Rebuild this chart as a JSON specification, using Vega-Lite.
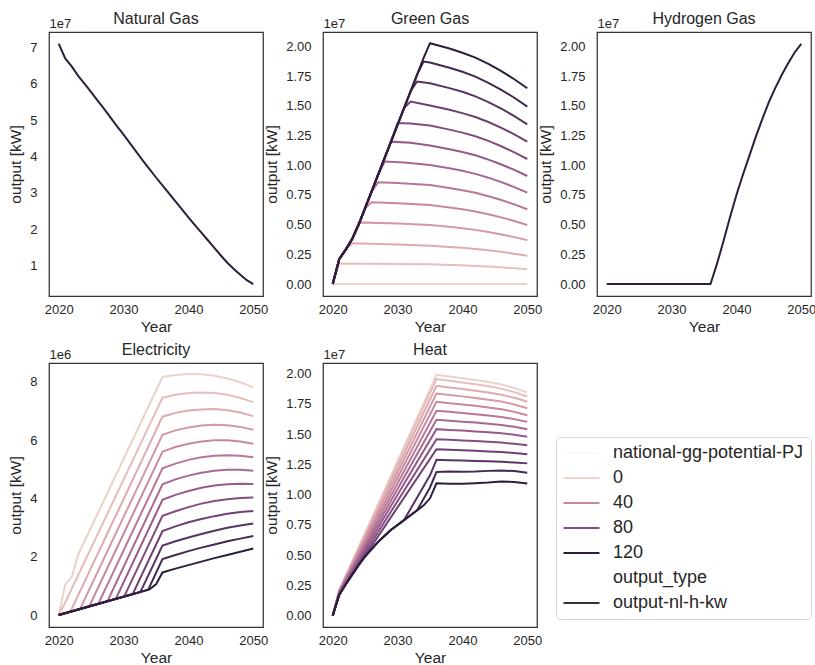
{
"$schema": "https://vega.github.io/schema/vega-lite/v6.json",
"background": "white",
"padding": {"left": 8, "top": 10, "right": 5, "bottom": 5},
"columns": 3,
"bounds": "flush",
"spacing": {"row": 67, "column": 60},
"datasets": {
"ng": [
{"p":120,"x":2020,"v":71100000},{"p":120,"x":2021,"v":67000000},{"p":120,"x":2022,"v":64800000},{"p":120,"x":2023,"v":62200000},{"p":120,"x":2024,"v":60000000},{"p":120,"x":2025,"v":57700000},{"p":120,"x":2026,"v":55400000},{"p":120,"x":2027,"v":53100000},{"p":120,"x":2028,"v":50700000},{"p":120,"x":2029,"v":48300000},{"p":120,"x":2030,"v":46000000},{"p":120,"x":2031,"v":43600000},{"p":120,"x":2032,"v":41200000},{"p":120,"x":2033,"v":38800000},{"p":120,"x":2034,"v":36500000},{"p":120,"x":2035,"v":34200000},{"p":120,"x":2036,"v":32000000},{"p":120,"x":2037,"v":29800000},{"p":120,"x":2038,"v":27600000},{"p":120,"x":2039,"v":25400000},{"p":120,"x":2040,"v":23200000},{"p":120,"x":2041,"v":21100000},{"p":120,"x":2042,"v":19000000},{"p":120,"x":2043,"v":16900000},{"p":120,"x":2044,"v":14800000},{"p":120,"x":2045,"v":12700000},{"p":120,"x":2046,"v":10700000},{"p":120,"x":2047,"v":9000000},{"p":120,"x":2048,"v":7400000},{"p":120,"x":2049,"v":5900000},{"p":120,"x":2050,"v":4800000}
],
"h2": [
{"p":120,"x":2020,"v":0},{"p":120,"x":2036,"v":0},{"p":120,"x":2037,"v":1700000},{"p":120,"x":2038,"v":3600000},{"p":120,"x":2039,"v":5600000},{"p":120,"x":2040,"v":7500000},{"p":120,"x":2041,"v":9200000},{"p":120,"x":2042,"v":10800000},{"p":120,"x":2043,"v":12400000},{"p":120,"x":2044,"v":13900000},{"p":120,"x":2045,"v":15300000},{"p":120,"x":2046,"v":16500000},{"p":120,"x":2047,"v":17600000},{"p":120,"x":2048,"v":18600000},{"p":120,"x":2049,"v":19500000},{"p":120,"x":2050,"v":20200000}
],
"gg": [
{"p":0,"x":2020,"v":0},{"p":0,"x":2035,"v":0},{"p":0,"x":2050,"v":0},
{"p":10,"x":2020,"v":0},{"p":10,"x":2021,"v":1740000},{"p":10,"x":2025,"v":1720000},{"p":10,"x":2030,"v":1700000},{"p":10,"x":2035,"v":1660000},{"p":10,"x":2038,"v":1610000},{"p":10,"x":2040,"v":1580000},{"p":10,"x":2042,"v":1530000},{"p":10,"x":2044,"v":1480000},{"p":10,"x":2046,"v":1410000},{"p":10,"x":2048,"v":1340000},{"p":10,"x":2050,"v":1260000},
{"p":20,"x":2020,"v":0},{"p":20,"x":2021,"v":2100000},{"p":20,"x":2022,"v":2900000},{"p":20,"x":2023,"v":3430000},{"p":20,"x":2030,"v":3340000},{"p":20,"x":2035,"v":3230000},{"p":20,"x":2038,"v":3130000},{"p":20,"x":2040,"v":3050000},{"p":20,"x":2042,"v":2960000},{"p":20,"x":2044,"v":2840000},{"p":20,"x":2046,"v":2710000},{"p":20,"x":2048,"v":2560000},{"p":20,"x":2050,"v":2390000},
{"p":30,"x":2020,"v":0},{"p":30,"x":2021,"v":2100000},{"p":30,"x":2022,"v":2900000},{"p":30,"x":2023,"v":3800000},{"p":30,"x":2024,"v":5190000},{"p":30,"x":2030,"v":5100000},{"p":30,"x":2035,"v":4970000},{"p":30,"x":2038,"v":4820000},{"p":30,"x":2040,"v":4700000},{"p":30,"x":2042,"v":4560000},{"p":30,"x":2044,"v":4390000},{"p":30,"x":2046,"v":4180000},{"p":30,"x":2048,"v":3950000},{"p":30,"x":2050,"v":3700000},
{"p":40,"x":2020,"v":0},{"p":40,"x":2021,"v":2100000},{"p":40,"x":2022,"v":2900000},{"p":40,"x":2023,"v":3800000},{"p":40,"x":2024,"v":5000000},{"p":40,"x":2025,"v":6370000},{"p":40,"x":2026,"v":6880000},{"p":40,"x":2030,"v":6800000},{"p":40,"x":2035,"v":6650000},{"p":40,"x":2038,"v":6450000},{"p":40,"x":2040,"v":6300000},{"p":40,"x":2042,"v":6110000},{"p":40,"x":2044,"v":5880000},{"p":40,"x":2046,"v":5610000},{"p":40,"x":2048,"v":5310000},{"p":40,"x":2050,"v":4970000},
{"p":50,"x":2020,"v":0},{"p":50,"x":2021,"v":2100000},{"p":50,"x":2022,"v":2900000},{"p":50,"x":2023,"v":3800000},{"p":50,"x":2024,"v":5000000},{"p":50,"x":2026,"v":7770000},{"p":50,"x":2027,"v":8560000},{"p":50,"x":2030,"v":8500000},{"p":50,"x":2035,"v":8330000},{"p":50,"x":2038,"v":8090000},{"p":50,"x":2040,"v":7900000},{"p":50,"x":2042,"v":7680000},{"p":50,"x":2044,"v":7390000},{"p":50,"x":2046,"v":7070000},{"p":50,"x":2048,"v":6700000},{"p":50,"x":2050,"v":6290000},
{"p":60,"x":2020,"v":0},{"p":60,"x":2021,"v":2100000},{"p":60,"x":2022,"v":2900000},{"p":60,"x":2023,"v":3800000},{"p":60,"x":2024,"v":5000000},{"p":60,"x":2027,"v":9170000},{"p":60,"x":2028,"v":10300000},{"p":60,"x":2031,"v":10220000},{"p":60,"x":2035,"v":10020000},{"p":60,"x":2038,"v":9740000},{"p":60,"x":2040,"v":9530000},{"p":60,"x":2042,"v":9270000},{"p":60,"x":2044,"v":8950000},{"p":60,"x":2046,"v":8580000},{"p":60,"x":2048,"v":8160000},{"p":60,"x":2050,"v":7690000},
{"p":70,"x":2020,"v":0},{"p":70,"x":2021,"v":2100000},{"p":70,"x":2022,"v":2900000},{"p":70,"x":2023,"v":3800000},{"p":70,"x":2024,"v":5000000},{"p":70,"x":2028,"v":10570000},{"p":70,"x":2029,"v":11980000},{"p":70,"x":2032,"v":11880000},{"p":70,"x":2035,"v":11650000},{"p":70,"x":2038,"v":11340000},{"p":70,"x":2040,"v":11110000},{"p":70,"x":2042,"v":10830000},{"p":70,"x":2044,"v":10470000},{"p":70,"x":2046,"v":10060000},{"p":70,"x":2048,"v":9600000},{"p":70,"x":2050,"v":9090000},
{"p":80,"x":2020,"v":0},{"p":80,"x":2021,"v":2100000},{"p":80,"x":2022,"v":2900000},{"p":80,"x":2023,"v":3800000},{"p":80,"x":2024,"v":5000000},{"p":80,"x":2029,"v":12000000},{"p":80,"x":2030,"v":13550000},{"p":80,"x":2032,"v":13500000},{"p":80,"x":2035,"v":13330000},{"p":80,"x":2038,"v":12990000},{"p":80,"x":2040,"v":12740000},{"p":80,"x":2042,"v":12430000},{"p":80,"x":2044,"v":12040000},{"p":80,"x":2046,"v":11590000},{"p":80,"x":2048,"v":11080000},{"p":80,"x":2050,"v":10520000},
{"p":90,"x":2020,"v":0},{"p":90,"x":2021,"v":2100000},{"p":90,"x":2022,"v":2900000},{"p":90,"x":2023,"v":3800000},{"p":90,"x":2024,"v":5000000},{"p":90,"x":2031,"v":14800000},{"p":90,"x":2032,"v":15350000},{"p":90,"x":2035,"v":15020000},{"p":90,"x":2038,"v":14660000},{"p":90,"x":2040,"v":14380000},{"p":90,"x":2042,"v":14050000},{"p":90,"x":2044,"v":13630000},{"p":90,"x":2046,"v":13140000},{"p":90,"x":2048,"v":12600000},{"p":90,"x":2050,"v":11990000},
{"p":100,"x":2020,"v":0},{"p":100,"x":2021,"v":2100000},{"p":100,"x":2022,"v":2900000},{"p":100,"x":2023,"v":3800000},{"p":100,"x":2024,"v":5000000},{"p":100,"x":2032,"v":16200000},{"p":100,"x":2033,"v":17040000},{"p":100,"x":2035,"v":16890000},{"p":100,"x":2038,"v":16480000},{"p":100,"x":2040,"v":16170000},{"p":100,"x":2042,"v":15790000},{"p":100,"x":2044,"v":15300000},{"p":100,"x":2046,"v":14750000},{"p":100,"x":2048,"v":14130000},{"p":100,"x":2050,"v":13440000},
{"p":110,"x":2020,"v":0},{"p":110,"x":2021,"v":2100000},{"p":110,"x":2022,"v":2900000},{"p":110,"x":2023,"v":3800000},{"p":110,"x":2024,"v":5000000},{"p":110,"x":2033,"v":17600000},{"p":110,"x":2034,"v":18720000},{"p":110,"x":2035,"v":18640000},{"p":110,"x":2038,"v":18190000},{"p":110,"x":2040,"v":17860000},{"p":110,"x":2042,"v":17450000},{"p":110,"x":2044,"v":16930000},{"p":110,"x":2046,"v":16340000},{"p":110,"x":2048,"v":15670000},{"p":110,"x":2050,"v":14930000},
{"p":120,"x":2020,"v":0},{"p":120,"x":2021,"v":2100000},{"p":120,"x":2022,"v":2900000},{"p":120,"x":2023,"v":3800000},{"p":120,"x":2024,"v":5000000},{"p":120,"x":2034,"v":19000000},{"p":120,"x":2035,"v":20260000},{"p":120,"x":2038,"v":19810000},{"p":120,"x":2040,"v":19460000},{"p":120,"x":2042,"v":19050000},{"p":120,"x":2044,"v":18520000},{"p":120,"x":2046,"v":17910000},{"p":120,"x":2048,"v":17230000},{"p":120,"x":2050,"v":16470000}
],
"el": [
{"p":0,"x":2020,"v":0},{"p":0,"x":2021,"v":1040000},{"p":0,"x":2022,"v":1300000},{"p":0,"x":2023,"v":2070000},{"p":0,"x":2036,"v":8160000},{"p":0,"x":2038,"v":8230000},{"p":0,"x":2040,"v":8260000},{"p":0,"x":2042,"v":8255000},{"p":0,"x":2044,"v":8205000},{"p":0,"x":2046,"v":8110000},{"p":0,"x":2048,"v":7980000},{"p":0,"x":2050,"v":7810000},
{"p":10,"x":2020,"v":0},{"p":10,"x":2021,"v":430000},{"p":10,"x":2036,"v":7450000},{"p":10,"x":2038,"v":7550000},{"p":10,"x":2040,"v":7610000},{"p":10,"x":2042,"v":7630000},{"p":10,"x":2044,"v":7610000},{"p":10,"x":2046,"v":7550000},{"p":10,"x":2048,"v":7440000},{"p":10,"x":2050,"v":7300000},
{"p":20,"x":2020,"v":0},{"p":20,"x":2021.8,"v":112000},{"p":20,"x":2036,"v":6800000},{"p":20,"x":2038,"v":6930000},{"p":20,"x":2040,"v":7010000},{"p":20,"x":2042,"v":7050000},{"p":20,"x":2044,"v":7060000},{"p":20,"x":2046,"v":7020000},{"p":20,"x":2048,"v":6940000},{"p":20,"x":2050,"v":6820000},
{"p":30,"x":2020,"v":0},{"p":30,"x":2023.3,"v":207000},{"p":30,"x":2036,"v":6180000},{"p":30,"x":2038,"v":6330000},{"p":30,"x":2040,"v":6430000},{"p":30,"x":2042,"v":6500000},{"p":30,"x":2044,"v":6520000},{"p":30,"x":2046,"v":6510000},{"p":30,"x":2048,"v":6450000},{"p":30,"x":2050,"v":6350000},
{"p":40,"x":2020,"v":0},{"p":40,"x":2024.7,"v":297000},{"p":40,"x":2036,"v":5600000},{"p":40,"x":2038,"v":5760000},{"p":40,"x":2040,"v":5870000},{"p":40,"x":2042,"v":5950000},{"p":40,"x":2044,"v":5990000},{"p":40,"x":2046,"v":5990000},{"p":40,"x":2048,"v":5950000},{"p":40,"x":2050,"v":5870000},
{"p":50,"x":2020,"v":0},{"p":50,"x":2026.1,"v":385000},{"p":50,"x":2036,"v":5030000},{"p":50,"x":2038,"v":5190000},{"p":50,"x":2040,"v":5320000},{"p":50,"x":2042,"v":5410000},{"p":50,"x":2044,"v":5460000},{"p":50,"x":2046,"v":5480000},{"p":50,"x":2048,"v":5460000},{"p":50,"x":2050,"v":5410000},
{"p":60,"x":2020,"v":0},{"p":60,"x":2027.5,"v":470000},{"p":60,"x":2036,"v":4480000},{"p":60,"x":2038,"v":4650000},{"p":60,"x":2040,"v":4780000},{"p":60,"x":2042,"v":4880000},{"p":60,"x":2044,"v":4950000},{"p":60,"x":2046,"v":4980000},{"p":60,"x":2048,"v":4980000},{"p":60,"x":2050,"v":4950000},
{"p":70,"x":2020,"v":0},{"p":70,"x":2028.8,"v":553000},{"p":70,"x":2036,"v":3950000},{"p":70,"x":2038,"v":4120000},{"p":70,"x":2040,"v":4250000},{"p":70,"x":2042,"v":4360000},{"p":70,"x":2044,"v":4440000},{"p":70,"x":2046,"v":4480000},{"p":70,"x":2048,"v":4500000},{"p":70,"x":2050,"v":4490000},
{"p":80,"x":2020,"v":0},{"p":80,"x":2030.1,"v":637000},{"p":80,"x":2036,"v":3400000},{"p":80,"x":2038,"v":3560000},{"p":80,"x":2040,"v":3700000},{"p":80,"x":2042,"v":3820000},{"p":80,"x":2044,"v":3910000},{"p":80,"x":2046,"v":3970000},{"p":80,"x":2048,"v":4010000},{"p":80,"x":2050,"v":4030000},
{"p":90,"x":2020,"v":0},{"p":90,"x":2031.4,"v":718000},{"p":90,"x":2036,"v":2880000},{"p":90,"x":2038,"v":3040000},{"p":90,"x":2040,"v":3180000},{"p":90,"x":2042,"v":3290000},{"p":90,"x":2044,"v":3390000},{"p":90,"x":2046,"v":3470000},{"p":90,"x":2048,"v":3530000},{"p":90,"x":2050,"v":3570000},
{"p":100,"x":2020,"v":0},{"p":100,"x":2032.6,"v":795000},{"p":100,"x":2036,"v":2380000},{"p":100,"x":2038,"v":2530000},{"p":100,"x":2040,"v":2660000},{"p":100,"x":2042,"v":2780000},{"p":100,"x":2044,"v":2890000},{"p":100,"x":2046,"v":2990000},{"p":100,"x":2048,"v":3070000},{"p":100,"x":2050,"v":3140000},
{"p":110,"x":2020,"v":0},{"p":110,"x":2033.8,"v":867000},{"p":110,"x":2036,"v":1920000},{"p":110,"x":2038,"v":2060000},{"p":110,"x":2040,"v":2190000},{"p":110,"x":2042,"v":2310000},{"p":110,"x":2044,"v":2420000},{"p":110,"x":2046,"v":2530000},{"p":110,"x":2048,"v":2620000},{"p":110,"x":2050,"v":2710000},
{"p":120,"x":2020,"v":0},{"p":120,"x":2034,"v":880000},{"p":120,"x":2035,"v":1050000},{"p":120,"x":2036,"v":1460000},{"p":120,"x":2038,"v":1590000},{"p":120,"x":2040,"v":1710000},{"p":120,"x":2042,"v":1830000},{"p":120,"x":2044,"v":1950000},{"p":120,"x":2046,"v":2060000},{"p":120,"x":2048,"v":2170000},{"p":120,"x":2050,"v":2280000}
],
"heat": [
{"p":0,"x":2020,"v":0},{"p":0,"x":2021,"v":2100000},{"p":0,"x":2036,"v":19920000},{"p":0,"x":2038,"v":19770000},{"p":0,"x":2040,"v":19630000},{"p":0,"x":2042,"v":19480000},{"p":0,"x":2044,"v":19310000},{"p":0,"x":2046,"v":19120000},{"p":0,"x":2048,"v":18820000},{"p":0,"x":2050,"v":18460000},
{"p":10,"x":2020,"v":0},{"p":10,"x":2021,"v":2100000},{"p":10,"x":2036,"v":19560000},{"p":10,"x":2038,"v":19420000},{"p":10,"x":2040,"v":19270000},{"p":10,"x":2042,"v":19130000},{"p":10,"x":2044,"v":18960000},{"p":10,"x":2046,"v":18770000},{"p":10,"x":2048,"v":18480000},{"p":10,"x":2050,"v":18120000},
{"p":20,"x":2020,"v":0},{"p":20,"x":2021,"v":2100000},{"p":20,"x":2036,"v":19000000},{"p":20,"x":2038,"v":18870000},{"p":20,"x":2040,"v":18740000},{"p":20,"x":2042,"v":18600000},{"p":20,"x":2044,"v":18450000},{"p":20,"x":2046,"v":18270000},{"p":20,"x":2048,"v":18010000},{"p":20,"x":2050,"v":17680000},
{"p":30,"x":2020,"v":0},{"p":30,"x":2021,"v":2050000},{"p":30,"x":2036,"v":18370000},{"p":30,"x":2038,"v":18250000},{"p":30,"x":2040,"v":18130000},{"p":30,"x":2042,"v":18000000},{"p":30,"x":2044,"v":17860000},{"p":30,"x":2046,"v":17700000},{"p":30,"x":2048,"v":17460000},{"p":30,"x":2050,"v":17150000},
{"p":40,"x":2020,"v":0},{"p":40,"x":2021,"v":2000000},{"p":40,"x":2036,"v":17680000},{"p":40,"x":2038,"v":17570000},{"p":40,"x":2040,"v":17460000},{"p":40,"x":2042,"v":17350000},{"p":40,"x":2044,"v":17210000},{"p":40,"x":2046,"v":17070000},{"p":40,"x":2048,"v":16850000},{"p":40,"x":2050,"v":16570000},
{"p":50,"x":2020,"v":0},{"p":50,"x":2021,"v":1950000},{"p":50,"x":2036,"v":16940000},{"p":50,"x":2038,"v":16850000},{"p":50,"x":2040,"v":16760000},{"p":50,"x":2042,"v":16660000},{"p":50,"x":2044,"v":16550000},{"p":50,"x":2046,"v":16430000},{"p":50,"x":2048,"v":16250000},{"p":50,"x":2050,"v":16020000},
{"p":60,"x":2020,"v":0},{"p":60,"x":2021,"v":1900000},{"p":60,"x":2036,"v":16190000},{"p":60,"x":2038,"v":16110000},{"p":60,"x":2040,"v":16030000},{"p":60,"x":2042,"v":15960000},{"p":60,"x":2044,"v":15860000},{"p":60,"x":2046,"v":15760000},{"p":60,"x":2048,"v":15610000},{"p":60,"x":2050,"v":15410000},
{"p":70,"x":2020,"v":0},{"p":70,"x":2021,"v":1850000},{"p":70,"x":2036,"v":15420000},{"p":70,"x":2038,"v":15360000},{"p":70,"x":2040,"v":15300000},{"p":70,"x":2042,"v":15230000},{"p":70,"x":2044,"v":15160000},{"p":70,"x":2046,"v":15080000},{"p":70,"x":2048,"v":14960000},{"p":70,"x":2050,"v":14800000},
{"p":80,"x":2020,"v":0},{"p":80,"x":2021,"v":1800000},{"p":80,"x":2036,"v":14590000},{"p":80,"x":2038,"v":14540000},{"p":80,"x":2040,"v":14490000},{"p":80,"x":2042,"v":14440000},{"p":80,"x":2044,"v":14380000},{"p":80,"x":2046,"v":14310000},{"p":80,"x":2048,"v":14210000},{"p":80,"x":2050,"v":14080000},
{"p":90,"x":2020,"v":0},{"p":90,"x":2021,"v":1750000},{"p":90,"x":2036,"v":13760000},{"p":90,"x":2038,"v":13720000},{"p":90,"x":2040,"v":13680000},{"p":90,"x":2042,"v":13630000},{"p":90,"x":2044,"v":13580000},{"p":90,"x":2046,"v":13530000},{"p":90,"x":2048,"v":13450000},{"p":90,"x":2050,"v":13340000},
{"p":100,"x":2020,"v":0},{"p":100,"x":2021,"v":1700000},{"p":100,"x":2022,"v":2600000},{"p":100,"x":2023,"v":3400000},{"p":100,"x":2024,"v":4200000},{"p":100,"x":2025,"v":4900000},{"p":100,"x":2026,"v":5500000},{"p":100,"x":2027,"v":6100000},{"p":100,"x":2028,"v":6600000},{"p":100,"x":2029,"v":7100000},{"p":100,"x":2030,"v":7500000},{"p":100,"x":2031,"v":7900000},{"p":100,"x":2035,"v":11600000},{"p":100,"x":2036,"v":12880000},{"p":100,"x":2038,"v":12850000},{"p":100,"x":2040,"v":12820000},{"p":100,"x":2042,"v":12790000},{"p":100,"x":2044,"v":12760000},{"p":100,"x":2046,"v":12720000},{"p":100,"x":2048,"v":12660000},{"p":100,"x":2050,"v":12590000},
{"p":110,"x":2020,"v":0},{"p":110,"x":2021,"v":1700000},{"p":110,"x":2022,"v":2600000},{"p":110,"x":2023,"v":3400000},{"p":110,"x":2024,"v":4200000},{"p":110,"x":2025,"v":4900000},{"p":110,"x":2026,"v":5500000},{"p":110,"x":2027,"v":6100000},{"p":110,"x":2028,"v":6600000},{"p":110,"x":2029,"v":7100000},{"p":110,"x":2030,"v":7500000},{"p":110,"x":2031,"v":7900000},{"p":110,"x":2032,"v":8300000},{"p":110,"x":2033,"v":8700000},{"p":110,"x":2035,"v":10600000},{"p":110,"x":2036,"v":11880000},{"p":110,"x":2038,"v":11920000},{"p":110,"x":2040,"v":11900000},{"p":110,"x":2042,"v":11920000},{"p":110,"x":2044,"v":11970000},{"p":110,"x":2046,"v":12000000},{"p":110,"x":2048,"v":11950000},{"p":110,"x":2050,"v":11820000},
{"p":120,"x":2020,"v":0},{"p":120,"x":2021,"v":1700000},{"p":120,"x":2022,"v":2600000},{"p":120,"x":2023,"v":3400000},{"p":120,"x":2024,"v":4200000},{"p":120,"x":2025,"v":4900000},{"p":120,"x":2026,"v":5500000},{"p":120,"x":2027,"v":6100000},{"p":120,"x":2028,"v":6600000},{"p":120,"x":2029,"v":7100000},{"p":120,"x":2030,"v":7500000},{"p":120,"x":2031,"v":7900000},{"p":120,"x":2032,"v":8300000},{"p":120,"x":2033,"v":8700000},{"p":120,"x":2034,"v":9100000},{"p":120,"x":2035,"v":9700000},{"p":120,"x":2036,"v":10940000},{"p":120,"x":2038,"v":10900000},{"p":120,"x":2040,"v":10900000},{"p":120,"x":2042,"v":10950000},{"p":120,"x":2044,"v":11000000},{"p":120,"x":2046,"v":11100000},{"p":120,"x":2048,"v":11050000},{"p":120,"x":2050,"v":10930000}
]
},
"concat": [
{"title": {"text": "Natural Gas", "offset": -10, "frame": "group"}, "data": {"name": "ng"}, "width": 214, "height": 264,
 "layer": [
  {"mark": {"type": "line", "strokeWidth": 2},
   "encoding": {
    "x": {"field": "x", "type": "quantitative", "scale": {"domain": [2018.5, 2051.5], "nice": false, "zero": false}, "axis": {"title": "Year", "values": [2020, 2030, 2040, 2050], "format": "d"}},
    "y": {"field": "v", "type": "quantitative", "scale": {"domain": [1540000, 74300000], "nice": false, "zero": false}, "axis": {"title": "output [kW]", "values": [10000000, 20000000, 30000000, 40000000, 50000000, 60000000, 70000000], "labelExpr": "format(datum.value/1e7, 'd')"}},
    "color": {"field": "p", "type": "quantitative", "scale": {"domain": [-50, 0, 24, 48, 72, 96, 120, 160, 200], "range": ["#ffffff", "#edd1cb", "#daa4ac", "#bc7a98", "#94578a", "#613969", "#2d1e3e", "#ffffff", "#333333"]},
     "legend": {"type": "symbol", "orient": "none", "legendX": 507, "legendY": 405, "title": null, "values": [-50, 0, 40, 80, 120, 160, 200],
      "labelExpr": "datum.value < 0 ? 'national-gg-potential-PJ' : datum.value == 160 ? 'output_type' : datum.value == 200 ? 'output-nl-h-kw' : datum.label",
      "symbolType": "M-3,0H3", "symbolSize": 144, "symbolStrokeWidth": 2, "symbolOffset": 9.5, "labelOffset": 22.5, "labelFontSize": 18, "labelColor": "#262626", "labelLimit": 400, "rowPadding": 7, "padding": 7, "strokeColor": "#d6d6d6", "fillColor": "white", "cornerRadius": 4}},
    "detail": {"field": "p", "type": "nominal"}
   }},
  {"mark": {"type": "line", "opacity": 0},
   "encoding": {
    "x": {"field": "x", "type": "quantitative", "scale": {"domain": [2018.5, 2051.5], "nice": false, "zero": false}, "axis": {"title": "Year", "values": [2020, 2030, 2040, 2050], "format": "d"}},
    "y": {"field": "v", "type": "quantitative", "scale": {"domain": [1540000, 74300000], "nice": false, "zero": false}, "axis": {"title": "1e7", "orient": "left", "labels": false, "titleAngle": 0, "titleX": 0, "titleY": -2, "titleAlign": "left", "titleBaseline": "bottom", "titleFontSize": 13}}
   }}
 ],
 "resolve": {"axis": {"y": "independent"}}
},
{"title": {"text": "Green Gas", "offset": -10, "frame": "group"}, "data": {"name": "gg"}, "width": 214, "height": 264,
 "layer": [
  {"mark": {"type": "line", "strokeWidth": 2},
   "encoding": {
    "x": {"field": "x", "type": "quantitative", "scale": {"domain": [2018.5, 2051.5], "nice": false, "zero": false}, "axis": {"title": "Year", "values": [2020, 2030, 2040, 2050], "format": "d"}},
    "y": {"field": "v", "type": "quantitative", "scale": {"domain": [-1000000, 21200000], "nice": false, "zero": false}, "axis": {"title": "output [kW]", "values": [0, 2500000, 5000000, 7500000, 10000000, 12500000, 15000000, 17500000, 20000000], "labelExpr": "format(datum.value/1e7, '.2f')"}},
    "color": {"field": "p", "type": "quantitative", "scale": {"domain": [-50, 0, 24, 48, 72, 96, 120, 160, 200], "range": ["#ffffff", "#edd1cb", "#daa4ac", "#bc7a98", "#94578a", "#613969", "#2d1e3e", "#ffffff", "#333333"]},
     "legend": {"type": "symbol", "orient": "none", "legendX": 507, "legendY": 405, "title": null, "values": [-50, 0, 40, 80, 120, 160, 200],
      "labelExpr": "datum.value < 0 ? 'national-gg-potential-PJ' : datum.value == 160 ? 'output_type' : datum.value == 200 ? 'output-nl-h-kw' : datum.label",
      "symbolType": "M-3,0H3", "symbolSize": 144, "symbolStrokeWidth": 2, "symbolOffset": 9.5, "labelOffset": 22.5, "labelFontSize": 18, "labelColor": "#262626", "labelLimit": 400, "rowPadding": 7, "padding": 7, "strokeColor": "#d6d6d6", "fillColor": "white", "cornerRadius": 4}},
    "detail": {"field": "p", "type": "nominal"}
   }},
  {"mark": {"type": "line", "opacity": 0},
   "encoding": {
    "x": {"field": "x", "type": "quantitative", "scale": {"domain": [2018.5, 2051.5], "nice": false, "zero": false}, "axis": {"title": "Year", "values": [2020, 2030, 2040, 2050], "format": "d"}},
    "y": {"field": "v", "type": "quantitative", "scale": {"domain": [-1000000, 21200000], "nice": false, "zero": false}, "axis": {"title": "1e7", "orient": "left", "labels": false, "titleAngle": 0, "titleX": 0, "titleY": -2, "titleAlign": "left", "titleBaseline": "bottom", "titleFontSize": 13}}
   }}
 ],
 "resolve": {"axis": {"y": "independent"}}
},
{"title": {"text": "Hydrogen Gas", "offset": -10, "frame": "group"}, "data": {"name": "h2"}, "width": 214, "height": 264,
 "layer": [
  {"mark": {"type": "line", "strokeWidth": 2},
   "encoding": {
    "x": {"field": "x", "type": "quantitative", "scale": {"domain": [2018.5, 2051.5], "nice": false, "zero": false}, "axis": {"title": "Year", "values": [2020, 2030, 2040, 2050], "format": "d"}},
    "y": {"field": "v", "type": "quantitative", "scale": {"domain": [-1000000, 21200000], "nice": false, "zero": false}, "axis": {"title": "output [kW]", "values": [0, 2500000, 5000000, 7500000, 10000000, 12500000, 15000000, 17500000, 20000000], "labelExpr": "format(datum.value/1e7, '.2f')"}},
    "color": {"field": "p", "type": "quantitative", "scale": {"domain": [-50, 0, 24, 48, 72, 96, 120, 160, 200], "range": ["#ffffff", "#edd1cb", "#daa4ac", "#bc7a98", "#94578a", "#613969", "#2d1e3e", "#ffffff", "#333333"]},
     "legend": {"type": "symbol", "orient": "none", "legendX": 507, "legendY": 405, "title": null, "values": [-50, 0, 40, 80, 120, 160, 200],
      "labelExpr": "datum.value < 0 ? 'national-gg-potential-PJ' : datum.value == 160 ? 'output_type' : datum.value == 200 ? 'output-nl-h-kw' : datum.label",
      "symbolType": "M-3,0H3", "symbolSize": 144, "symbolStrokeWidth": 2, "symbolOffset": 9.5, "labelOffset": 22.5, "labelFontSize": 18, "labelColor": "#262626", "labelLimit": 400, "rowPadding": 7, "padding": 7, "strokeColor": "#d6d6d6", "fillColor": "white", "cornerRadius": 4}},
    "detail": {"field": "p", "type": "nominal"}
   }},
  {"mark": {"type": "line", "opacity": 0},
   "encoding": {
    "x": {"field": "x", "type": "quantitative", "scale": {"domain": [2018.5, 2051.5], "nice": false, "zero": false}, "axis": {"title": "Year", "values": [2020, 2030, 2040, 2050], "format": "d"}},
    "y": {"field": "v", "type": "quantitative", "scale": {"domain": [-1000000, 21200000], "nice": false, "zero": false}, "axis": {"title": "1e7", "orient": "left", "labels": false, "titleAngle": 0, "titleX": 0, "titleY": -2, "titleAlign": "left", "titleBaseline": "bottom", "titleFontSize": 13}}
   }}
 ],
 "resolve": {"axis": {"y": "independent"}}
},
{"title": {"text": "Electricity", "offset": -10, "frame": "group"}, "data": {"name": "el"}, "width": 214, "height": 264,
 "layer": [
  {"mark": {"type": "line", "strokeWidth": 2},
   "encoding": {
    "x": {"field": "x", "type": "quantitative", "scale": {"domain": [2018.5, 2051.5], "nice": false, "zero": false}, "axis": {"title": "Year", "values": [2020, 2030, 2040, 2050], "format": "d"}},
    "y": {"field": "v", "type": "quantitative", "scale": {"domain": [-410000, 8640000], "nice": false, "zero": false}, "axis": {"title": "output [kW]", "values": [0, 2000000, 4000000, 6000000, 8000000], "labelExpr": "format(datum.value/1e6, 'd')"}},
    "color": {"field": "p", "type": "quantitative", "scale": {"domain": [-50, 0, 24, 48, 72, 96, 120, 160, 200], "range": ["#ffffff", "#edd1cb", "#daa4ac", "#bc7a98", "#94578a", "#613969", "#2d1e3e", "#ffffff", "#333333"]},
     "legend": {"type": "symbol", "orient": "none", "legendX": 507, "legendY": 405, "title": null, "values": [-50, 0, 40, 80, 120, 160, 200],
      "labelExpr": "datum.value < 0 ? 'national-gg-potential-PJ' : datum.value == 160 ? 'output_type' : datum.value == 200 ? 'output-nl-h-kw' : datum.label",
      "symbolType": "M-3,0H3", "symbolSize": 144, "symbolStrokeWidth": 2, "symbolOffset": 9.5, "labelOffset": 22.5, "labelFontSize": 18, "labelColor": "#262626", "labelLimit": 400, "rowPadding": 7, "padding": 7, "strokeColor": "#d6d6d6", "fillColor": "white", "cornerRadius": 4}},
    "detail": {"field": "p", "type": "nominal"}
   }},
  {"mark": {"type": "line", "opacity": 0},
   "encoding": {
    "x": {"field": "x", "type": "quantitative", "scale": {"domain": [2018.5, 2051.5], "nice": false, "zero": false}, "axis": {"title": "Year", "values": [2020, 2030, 2040, 2050], "format": "d"}},
    "y": {"field": "v", "type": "quantitative", "scale": {"domain": [-410000, 8640000], "nice": false, "zero": false}, "axis": {"title": "1e6", "orient": "left", "labels": false, "titleAngle": 0, "titleX": 0, "titleY": -2, "titleAlign": "left", "titleBaseline": "bottom", "titleFontSize": 13}}
   }}
 ],
 "resolve": {"axis": {"y": "independent"}}
},
{"title": {"text": "Heat", "offset": -10, "frame": "group"}, "data": {"name": "heat"}, "width": 214, "height": 264,
 "layer": [
  {"mark": {"type": "line", "strokeWidth": 2},
   "encoding": {
    "x": {"field": "x", "type": "quantitative", "scale": {"domain": [2018.5, 2051.5], "nice": false, "zero": false}, "axis": {"title": "Year", "values": [2020, 2030, 2040, 2050], "format": "d"}},
    "y": {"field": "v", "type": "quantitative", "scale": {"domain": [-940000, 20890000], "nice": false, "zero": false}, "axis": {"title": "output [kW]", "values": [0, 2500000, 5000000, 7500000, 10000000, 12500000, 15000000, 17500000, 20000000], "labelExpr": "format(datum.value/1e7, '.2f')"}},
    "color": {"field": "p", "type": "quantitative", "scale": {"domain": [-50, 0, 24, 48, 72, 96, 120, 160, 200], "range": ["#ffffff", "#edd1cb", "#daa4ac", "#bc7a98", "#94578a", "#613969", "#2d1e3e", "#ffffff", "#333333"]},
     "legend": {"type": "symbol", "orient": "none", "legendX": 507, "legendY": 405, "title": null, "values": [-50, 0, 40, 80, 120, 160, 200],
      "labelExpr": "datum.value < 0 ? 'national-gg-potential-PJ' : datum.value == 160 ? 'output_type' : datum.value == 200 ? 'output-nl-h-kw' : datum.label",
      "symbolType": "M-3,0H3", "symbolSize": 144, "symbolStrokeWidth": 2, "symbolOffset": 9.5, "labelOffset": 22.5, "labelFontSize": 18, "labelColor": "#262626", "labelLimit": 400, "rowPadding": 7, "padding": 7, "strokeColor": "#d6d6d6", "fillColor": "white", "cornerRadius": 4}},
    "detail": {"field": "p", "type": "nominal"}
   }},
  {"mark": {"type": "line", "opacity": 0},
   "encoding": {
    "x": {"field": "x", "type": "quantitative", "scale": {"domain": [2018.5, 2051.5], "nice": false, "zero": false}, "axis": {"title": "Year", "values": [2020, 2030, 2040, 2050], "format": "d"}},
    "y": {"field": "v", "type": "quantitative", "scale": {"domain": [-940000, 20890000], "nice": false, "zero": false}, "axis": {"title": "1e7", "orient": "left", "labels": false, "titleAngle": 0, "titleX": 0, "titleY": -2, "titleAlign": "left", "titleBaseline": "bottom", "titleFontSize": 13}}
   }}
 ],
 "resolve": {"axis": {"y": "independent"}}
}
],
"config": {
 "font": "Liberation Sans",
 "view": {"stroke": "#333333", "strokeWidth": 1.25},
 "axis": {"grid": false, "ticks": false, "domain": false, "labelFontSize": 13, "labelColor": "#262626", "titleFontSize": 15.5, "titleFontWeight": "normal", "titleColor": "#262626"},
 "axisX": {"labelPadding": 7, "titlePadding": 3},
 "axisY": {"labelPadding": 12, "titlePadding": 6},
 "title": {"fontSize": 16, "fontWeight": "normal", "color": "#262626"},
 "line": {"strokeWidth": 2}
}
}
